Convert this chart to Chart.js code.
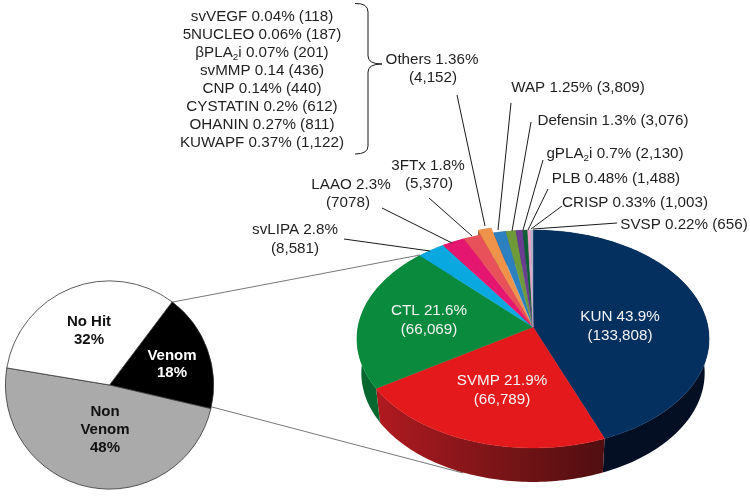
<!DOCTYPE html>
<html><head><meta charset="utf-8">
<style>html,body{margin:0;padding:0;background:#fff;overflow:hidden}#wrap{position:relative;width:750px;height:496px;overflow:hidden}canvas{position:absolute;left:0;top:0}</style>
<script src="https://cdn.jsdelivr.net/npm/chart.js@4"></script>
</head><body><div id="wrap"><canvas id="venom" width="750" height="560"></canvas><canvas id="overview" width="750" height="496"></canvas></div>
<script>
const venomCategories=["KUN","SVMP","CTL","svLIPA","LAAO","3FTx","Others","WAP","Defensin","gPLA2i","PLB","CRISP","SVSP"];
const venomValues=[133808,66789,66069,8581,7078,5370,4152,3809,3076,2130,1488,1003,656];
const venomColors=["#03305f","#e3191c","#0a8a3c","#0aa8e0","#e5166f","#e8505a","#f0934a","#2d80c0","#6e9a3a","#6a3c92","#0d5f35","#e8a0c8","#b0b4c8"];
const venomSideColors=["#040f24","#8c1518","#07682f","#0a7aa5","#a51050","#a83a40","#a8612c","#205d8c","#4f6f2a","#4c2b69","#0a4426","#a87390","#7f8290"];
const overviewCategories=["Venom","Non Venom","No Hit"];
const overviewValues=[18,48,32];
const overviewColors=["#000000","#aaaaaa","#ffffff"];

const FONT='"Liberation Sans", Arial, sans-serif';
const FS=15.2;
const bracketLines=["svVEGF 0.04% (118)","5NUCLEO 0.06% (187)","βPLA_2_i 0.07% (201)","svMMP 0.14 (436)","CNP 0.14% (440)","CYSTATIN 0.2% (612)","OHANIN 0.27% (811)","KUWAPF 0.37% (1,122)"];
const calloutLabels=[
 ["Others 1.36%",432,60],["(4,152)",433,78],
 ["WAP 1.25% (3,809)",578,88],["Defensin 1.3% (3,076)",613,121],
 ["gPLA_2_i 0.7% (2,130)",615,154],["PLB 0.48% (1,488)",616,179],
 ["CRISP 0.33% (1,003)",635,203],["SVSP 0.22% (656)",684,225],
 ["3FTx 1.8%",428,166],["(5,370)",429,184],
 ["LAAO 2.3%",351,185],["(7078)",348,203],
 ["svLIPA 2.8%",295,230],["(8,581)",295,249]];
const whiteLabels=[["KUN 43.9%",620,317],["(133,808)",620,336],["SVMP 21.9%",502,381],["(66,789)",502,400],["CTL 21.6%",429,311],["(66,069)",429,330]];
const overviewLabels=[["No Hit",89,322,"#111"],["32%",89,340,"#111"],["Venom",172,356,"#fff"],["18%",172,373,"#fff"],["Non",105,412,"#111"],["Venom",105,430,"#111"],["48%",105,448,"#111"]];
const leaderLines=[[457,95,485,226],[511,103,498,230],[531,122,512,231],[543,160,523,230],[548,189,528,230],[562,206,531,229],[617,223,533,229],[429,198,472,236],[382,208,452,243],[344,239,430,251]];
const zoomLines=[[173,302,420,255],[212,407,463,473]];

function drawRich(ctx,txt,cx,y,fs){
  const parts=txt.split("_");let w=0;
  parts.forEach((p,i)=>{ctx.font=(i%2?fs*0.65:fs)+"px "+FONT;w+=ctx.measureText(p).width;});
  let x=cx-w/2;ctx.textAlign="left";
  parts.forEach((p,i)=>{ctx.font=(i%2?fs*0.65:fs)+"px "+FONT;ctx.fillText(p,x,y+(i%2?4:0));x+=ctx.measureText(p).width;});
}
const TILT=0.11, SQUASH=0.615, DEPTH=34, SHRINK=0.975;
function proj(el,r,a,dx,dy){
  const R=el.outerRadius, X=r*Math.cos(a)+dx, Y=r*Math.sin(a)+dy;
  const w=1/(1-TILT*Y/R);
  return [el.cx0+X*w, el.cy0+Y*SQUASH*w];
}
const tiltedPie={
  id:"tiltedPie",
  beforeDatasetDraw(chart){
    const ctx=chart.ctx, arcs=chart.getDatasetMeta(0).data;
    const cx=(chart.chartArea.left+chart.chartArea.right)/2, cy=(chart.chartArea.top+chart.chartArea.bottom)/2;
    ctx.save();ctx.strokeStyle="#555";ctx.lineWidth=0.8;
    zoomLines.forEach(l=>{ctx.beginPath();ctx.moveTo(l[0],l[1]);ctx.lineTo(l[2],l[3]);ctx.stroke();});
    ctx.restore();
    const geom=arcs.map(el=>{
      const p=el.getProps(["startAngle","endAngle","outerRadius"],true);
      const off=el.options.offset||0, mid=(p.startAngle+p.endAngle)/2;
      return {startAngle:p.startAngle,endAngle:p.endAngle,outerRadius:p.outerRadius,cx0:cx,cy0:cy,dx:off*Math.cos(mid),dy:off*Math.sin(mid)};
    });
    const edge=g=>{
      const pts=[],n=Math.max(2,Math.ceil((g.endAngle-g.startAngle)/0.02));
      for(let i=0;i<=n;i++){
        const a=g.startAngle+(g.endAngle-g.startAngle)*i/n;
        pts.push(proj(g,g.outerRadius,a,g.dx,g.dy));
      }
      return pts;
    };
    geom.forEach((g,i)=>{
      const top=edge(g);
      const low=top.map(p=>[g.cx0+(p[0]-g.cx0)*SHRINK,p[1]+DEPTH]);
      const poly=top.concat(low.slice().reverse());
      ctx.beginPath();poly.forEach((p,j)=>j?ctx.lineTo(p[0],p[1]):ctx.moveTo(p[0],p[1]));ctx.closePath();
      let fill=venomSideColors[i];
      if(i===1){const gr=ctx.createLinearGradient(376,0,607,0);gr.addColorStop(0,"#b01a20");gr.addColorStop(0.5,"#7d1518");gr.addColorStop(1,"#4f0e10");fill=gr;}
      ctx.fillStyle=fill;ctx.fill();
    });
    const oi=venomCategories.indexOf("Others"), og=geom[oi];
    const a=proj(og,0,0,og.dx,og.dy), b=proj(og,og.outerRadius,og.startAngle,og.dx,og.dy);
    ctx.beginPath();ctx.moveTo(a[0],a[1]);ctx.lineTo(b[0],b[1]);ctx.lineTo(b[0],b[1]+DEPTH*0.35);ctx.lineTo(a[0],a[1]+DEPTH*0.35);ctx.closePath();
    ctx.fillStyle=venomSideColors[oi];ctx.fill();
    geom.forEach((g,i)=>{
      const pts=edge(g), c=proj(g,0,0,g.dx,g.dy);
      ctx.beginPath();ctx.moveTo(c[0],c[1]);pts.forEach(p=>ctx.lineTo(p[0],p[1]));ctx.closePath();
      ctx.fillStyle=arcs[i].options.backgroundColor;ctx.fill();
      ctx.strokeStyle=arcs[i].options.backgroundColor;ctx.lineWidth=0.4;ctx.stroke();
    });
    return false;
  },
  afterDatasetsDraw(chart){
    const ctx=chart.ctx;ctx.save();ctx.textBaseline="middle";ctx.textAlign="center";
    ctx.strokeStyle="#1a1a1a";ctx.lineWidth=1;
    leaderLines.forEach(l=>{ctx.beginPath();ctx.moveTo(l[0],l[1]);ctx.lineTo(l[2],l[3]);ctx.stroke();});
    ctx.beginPath();ctx.moveTo(355,3.5);ctx.quadraticCurveTo(368,3,368,12);ctx.lineTo(368,56);ctx.quadraticCurveTo(368,64,382,64);
    ctx.moveTo(382,64);ctx.quadraticCurveTo(368,64,368,72);ctx.lineTo(368,146);ctx.quadraticCurveTo(368,154,355,154);ctx.stroke();
    ctx.fillStyle="#1f1f1f";
    bracketLines.forEach((t,i)=>drawRich(ctx,t,262,17+18*i,FS));
    calloutLabels.forEach(l=>drawRich(ctx,l[0],l[1],l[2],FS));
    ctx.fillStyle="#f4f4f4";
    whiteLabels.forEach(l=>drawRich(ctx,l[0],l[1],l[2],FS));
    ctx.restore();
  }
};
const overviewText={
  id:"overviewText",
  afterDatasetsDraw(chart){
    const ctx=chart.ctx;ctx.save();ctx.textBaseline="middle";ctx.textAlign="center";ctx.font="bold 15px "+FONT;
    overviewLabels.forEach(l=>{ctx.fillStyle=l[3];ctx.fillText(l[0],l[1],l[2]);});
    ctx.restore();
  }
};
Chart.defaults.animation=false;
new Chart(document.getElementById("overview"),{
  type:"pie",
  data:{labels:overviewCategories,datasets:[{data:overviewValues,backgroundColor:overviewColors,borderColor:"#333",borderWidth:0.8}]},
  plugins:[overviewText],
  options:{responsive:false,rotation:37,layout:{padding:{left:5,top:280,right:750-214,bottom:496-490}},plugins:{legend:{display:false},tooltip:{enabled:false}}}
});
new Chart(document.getElementById("venom"),{
  type:"pie",
  data:{labels:venomCategories,datasets:[{data:venomValues,backgroundColor:venomColors,borderWidth:0,offset:venomCategories.map(c=>c==="Others"?10:0)}]},
  plugins:[tiltedPie],
  options:{responsive:false,layout:{padding:{left:353,right:37,top:147,bottom:53}},plugins:{legend:{display:false},tooltip:{enabled:false}}}
});
</script></body></html>
